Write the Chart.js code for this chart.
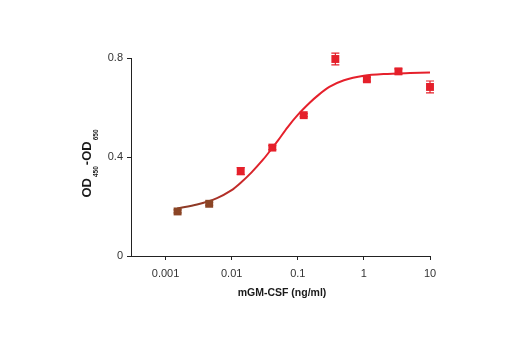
<!DOCTYPE html>
<html>
<head>
<meta charset="utf-8">
<script src="https://cdn.jsdelivr.net/npm/chart.js@4"></script>
<style>
html,body{margin:0;padding:0;background:#fff;}
#wrap{width:520px;height:350px;position:relative;}
</style>
</head>
<body>
<div id="wrap"><canvas id="c" width="520" height="350"></canvas></div>
<script>
// concentrations (ng/ml), 3-fold dilutions
const concentrations = [0.00152, 0.00457, 0.0137, 0.0412, 0.123, 0.370, 1.11, 3.33, 10];
const odValues = [0.180, 0.211, 0.343, 0.438, 0.569, 0.796, 0.714, 0.746, 0.683];
const odErrors = [0.006, 0.006, 0.014, 0.008, 0.006, 0.024, 0.008, 0.010, 0.024];
// fitted curve
const curveX = [0.0015, 0.003, 0.006, 0.01, 0.0137, 0.02, 0.03, 0.041, 0.05, 0.07, 0.1, 0.15, 0.2, 0.3, 0.5, 1, 2, 5, 10];
const curveY = [0.192, 0.208, 0.234, 0.266, 0.296, 0.338, 0.390, 0.436, 0.466, 0.520, 0.570, 0.618, 0.648, 0.683, 0.710, 0.728, 0.735, 0.739, 0.741];
const xTickValues = [0.001, 0.01, 0.1, 1, 10];
const xTickLabels = ['0.001', '0.01', '0.1', '1', '10'];
const yTickValues = [0, 0.4, 0.8];
const yTickLabels = ['0', '0.4', '0.8'];
const xTitle = 'mGM-CSF (ng/ml)';

const RED = '#e5202b';
const BROWN = '#8b4526';
const pointColors = concentrations.map((c, i) => i < 2 ? BROWN : RED);
const FONT = "'Liberation Sans', Arial, sans-serif";

const errorBars = {
  id: 'errorBars',
  afterDatasetsDraw(chart) {
    const ctx = chart.ctx, xs = chart.scales.x, ys = chart.scales.y;
    ctx.save();
    ctx.lineWidth = 1.2;
    concentrations.forEach((c, i) => {
      const x = xs.getPixelForValue(c);
      const y1 = ys.getPixelForValue(odValues[i] - odErrors[i]);
      const y2 = ys.getPixelForValue(odValues[i] + odErrors[i]);
      ctx.strokeStyle = pointColors[i];
      ctx.beginPath();
      ctx.moveTo(x, y1); ctx.lineTo(x, y2);
      ctx.moveTo(x - 4, y1); ctx.lineTo(x + 4, y1);
      ctx.moveTo(x - 4, y2); ctx.lineTo(x + 4, y2);
      ctx.stroke();
    });
    ctx.restore();
  }
};

const titles = {
  id: 'titles',
  afterDraw(chart) {
    const ctx = chart.ctx;
    ctx.save();
    ctx.fillStyle = '#1a1a1a';
    ctx.font = 'bold 10.5px ' + FONT;
    ctx.textAlign = 'center';
    ctx.textBaseline = 'middle';
    ctx.fillText(xTitle, 282, 293);
    // y title with subscripts, rotated
    ctx.translate(87, 163);
    ctx.rotate(-Math.PI / 2);
    const parts = [['OD', false], ['450', true], ['-OD', false], ['650', true]];
    const big = 'bold 13px ' + FONT, small = 'bold 6.5px ' + FONT;
    let total = 0;
    parts.forEach(p => { ctx.font = p[1] ? small : big; total += ctx.measureText(p[0]).width + 1; });
    let x = -total / 2;
    ctx.textAlign = 'left';
    parts.forEach(p => {
      ctx.font = p[1] ? small : big;
      ctx.fillText(p[0], x, p[1] ? 9 : 0);
      x += ctx.measureText(p[0]).width + 1;
    });
    ctx.restore();
  }
};

new Chart(document.getElementById('c'), {
  type: 'scatter',
  data: {
    datasets: [
      {
        type: 'scatter',
        data: concentrations.map((c, i) => ({x: c, y: odValues[i]})),
        pointStyle: 'rect',
        pointRadius: 5.6,
        pointHoverRadius: 5.6,
        backgroundColor: pointColors,
        borderColor: pointColors,
        borderWidth: 0,
        order: 1,
        clip: false
      },
      {
        type: 'line',
        data: curveX.map((c, i) => ({x: c, y: curveY[i]})),
        showLine: true,
        pointRadius: 0,
        borderWidth: 2,
        tension: 0.3,
        borderColor(ctx) {
          const chart = ctx.chart;
          if (!chart.chartArea) return RED;
          const xs = chart.scales.x;
          const g = chart.ctx.createLinearGradient(xs.getPixelForValue(0.003), 0, xs.getPixelForValue(0.03), 0);
          g.addColorStop(0, '#8e3a26');
          g.addColorStop(1, RED);
          return g;
        },
        order: 2
      }
    ]
  },
  options: {
    responsive: false,
    animation: false,
    events: [],
    layout: {padding: {left: 0, right: 90, top: 58, bottom: 0}},
    plugins: {legend: {display: false}, tooltip: {enabled: false}},
    scales: {
      x: {
        type: 'logarithmic',
        min: 0.000307,
        max: 10,
        afterBuildTicks(s) { s.ticks = xTickValues.map(v => ({value: v})); },
        afterFit(s) { s.height = 94; },
        grid: {display: true, drawOnChartArea: false, drawTicks: true, tickLength: 4, color: '#222', tickColor: '#222'},
        border: {display: true, color: '#222', width: 1},
        ticks: {
          autoSkip: false, maxRotation: 0, padding: 7,
          color: '#333', font: {family: FONT, size: 11},
          callback(v) { const i = xTickValues.findIndex(t => Math.abs(t - v) / t < 1e-6); return i >= 0 ? xTickLabels[i] : ''; }
        }
      },
      y: {
        type: 'linear',
        min: 0,
        max: 0.8,
        afterBuildTicks(s) { s.ticks = yTickValues.map(v => ({value: v})); },
        afterFit(s) { s.width = 131; },
        grid: {display: true, drawOnChartArea: false, drawTicks: true, tickLength: 4, color: '#222', tickColor: '#222'},
        border: {display: true, color: '#222', width: 1},
        ticks: {
          padding: 4,
          color: '#333', font: {family: FONT, size: 11},
          callback(v) { const i = yTickValues.findIndex(t => Math.abs(t - v) < 1e-9); return i >= 0 ? yTickLabels[i] : ''; }
        }
      }
    }
  },
  plugins: [errorBars, titles]
});
</script>
</body>
</html>
